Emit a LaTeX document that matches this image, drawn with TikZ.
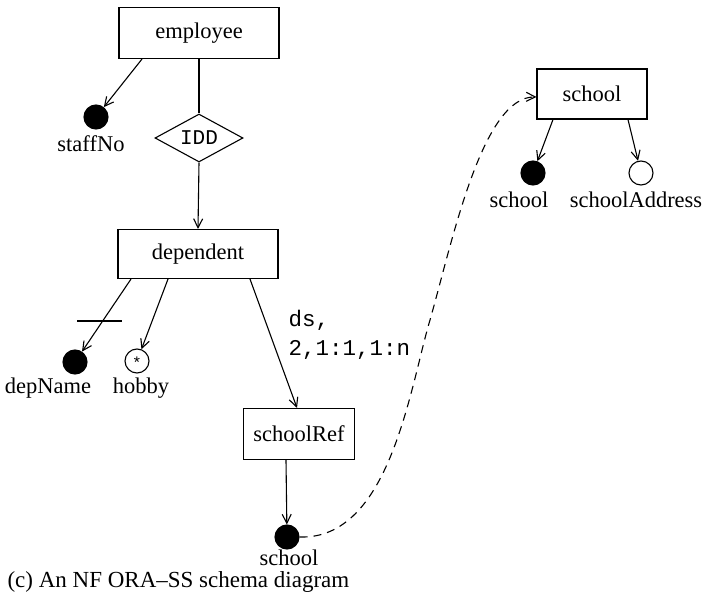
\documentclass[tikz,border=0pt]{standalone}
\usepackage{fontspec}
\setmainfont{Liberation Serif}
\setmonofont{Liberation Mono}
\usetikzlibrary{shapes.geometric,arrows.meta}
\begin{document}
\begin{tikzpicture}[x=1pt,y=-1pt,
  line width=1.1pt,
  font=\fontsize{22.5}{27}\selectfont,
  objbox/.style={draw,rectangle,minimum width=160pt,minimum height=51pt,inner sep=0pt},
  keyattr/.style={circle,fill=black,draw,minimum size=24pt,inner sep=0pt},
  plainattr/.style={circle,draw,fill=white,minimum size=24pt,inner sep=0pt},
  rel/.style={-{Straight Barb[length=9pt,width=9pt,line width=1.1pt]}},
  attrlabel/.style={inner sep=0pt,anchor=base},
]
\useasboundingbox (0,0) rectangle (705,599);

% object classes
\node[objbox] (employee) at (199,33) {employee};
\node[objbox,minimum width=160pt,minimum height=49pt] (dependent) at (198,254) {dependent};
\node[objbox,minimum width=111pt,minimum height=51pt] (schoolRef) at (299,434) {schoolRef};
\node[objbox,minimum width=110pt,minimum height=50pt] (school) at (592,94) {school};

% relationship type of employee/dependent
\node[draw,diamond,aspect=1.85,minimum width=88pt,minimum height=48pt,inner sep=0pt,
      font=\ttfamily\fontsize{21}{25}\selectfont] (idd) at (199,138) {IDD};

% attributes
\node[keyattr] (staffNo) at (96,117) {};
\node[attrlabel] (staffNoL) at (91,152) {staffNo};

\node[keyattr] (depName) at (75,362) {};
\node[attrlabel] (depNameL) at (48,393) {depName};
\node[plainattr] (hobby) at (137,361) {};
\node[font=\ttfamily\fontsize{16}{16}\selectfont,inner sep=0pt] (hobbystar) at (137,363) {*};
\node[attrlabel] (hobbyL) at (141,393) {hobby};

\node[keyattr] (schoolA) at (287,537) {};
\node[attrlabel] (schoolAL) at (289,565) {school};

\node[keyattr] (schoolK) at (533,173) {};
\node[attrlabel] (schoolKL) at (519,208) {school};
\node[plainattr] (schoolAddr) at (641,173) {};
\node[attrlabel] (schoolAddrL) at (636,208) {schoolAddress};

% connectors
\draw (employee.south) -- (idd.north);
\draw[rel] (idd.south) -- (dependent.north);
\draw[rel] ([xshift=-57pt]employee.south) -- (staffNo);

\draw[rel] ([xshift=-67pt]dependent.south) -- (depName);
\coordinate (barL) at (77,321);
\coordinate (barR) at (122,321);
\draw (barL) -- (barR);
\draw[rel] ([xshift=-30pt]dependent.south) -- (hobby);
\draw[rel] ([xshift=52pt]dependent.south) -- ([xshift=-2pt]schoolRef.north);
\node[anchor=north west,align=left,inner sep=0pt,
      font=\ttfamily\fontsize{22.5}{29}\selectfont] (card) at (288,310) {ds,\\2,1:1,1:n};

\draw[rel] ([xshift=-13pt]schoolRef.south) -- (schoolA);

\draw[rel] ([xshift=-39pt]school.south) -- (schoolK);
\draw[rel] ([xshift=36pt]school.south) -- (schoolAddr);

% reference to the school object class
\coordinate (refmid) at (430,320);
\draw[rel,dashed,dash pattern=on 8pt off 6pt] (schoolA.east)
  .. controls (390,540) and (410,387) .. (refmid)
  .. controls (452,243) and (482,96) .. ([yshift=-3pt]school.west);

% caption
\node[anchor=base west,inner sep=0pt,font=\fontsize{23}{27}\selectfont] (caption) at (7,587) {(c) An NF ORA--SS schema diagram};
\end{tikzpicture}
\end{document}
